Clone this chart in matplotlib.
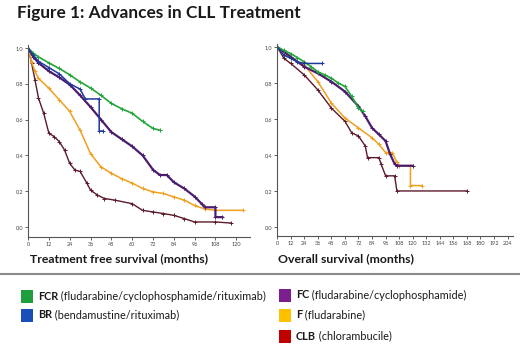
import matplotlib
matplotlib.use("Agg")
import matplotlib.pyplot as plt
from matplotlib.patches import Rectangle
from matplotlib.lines import Line2D

plt.rcParams['font.family'] = ['Lato', 'DejaVu Sans']

# treatment free survival (months, fraction)
fcr_t_x = [0, 3, 6, 12, 18, 24, 30, 36, 42, 48, 54, 60, 66, 72, 76]
fcr_t_y = [1.0, 0.97, 0.95, 0.916, 0.885, 0.85, 0.81, 0.776, 0.735, 0.69, 0.66, 0.635, 0.59, 0.55, 0.54]
br_t_x = [0, 3, 6, 12, 18, 24, 30, 33, 41, 41, 43]
br_t_y = [1.0, 0.96, 0.925, 0.89, 0.855, 0.80, 0.77, 0.715, 0.715, 0.536, 0.536]
fc_t_x = [0, 3, 6, 12, 18, 24, 30, 36, 42, 48, 54, 60, 66, 72, 76, 80, 84, 90, 96, 100, 102, 108, 108, 112]
fc_t_y = [1.0, 0.95, 0.916, 0.87, 0.835, 0.795, 0.735, 0.67, 0.60, 0.53, 0.49, 0.45, 0.40, 0.32, 0.29, 0.29,
          0.25, 0.215, 0.17, 0.13, 0.11, 0.11, 0.055, 0.055]
f_t_x = [0, 2, 4, 6, 12, 18, 24, 30, 36, 42, 48, 54, 60, 66, 72, 78, 84, 90, 96, 102, 108, 124]
f_t_y = [1.0, 0.92, 0.87, 0.83, 0.775, 0.71, 0.645, 0.54, 0.41, 0.335, 0.30, 0.27, 0.245, 0.215, 0.196, 0.187,
         0.168, 0.15, 0.12, 0.10, 0.093, 0.093]
clb_t_x = [0, 2, 4, 6, 9, 12, 15, 18, 21, 24, 27, 30, 34, 36, 40, 44, 50, 60, 66, 72, 78, 84, 90, 96, 108, 117]
clb_t_y = [1.0, 0.916, 0.82, 0.72, 0.635, 0.523, 0.505, 0.477, 0.43, 0.355, 0.318, 0.31, 0.243, 0.206, 0.178,
           0.159, 0.15, 0.13, 0.093, 0.084, 0.075, 0.065, 0.047, 0.028, 0.028, 0.022]

# overall survival
fcr_o_x = [0, 6, 12, 18, 24, 30, 36, 42, 48, 54, 60, 66, 72, 76]
fcr_o_y = [1.0, 0.98, 0.963, 0.94, 0.917, 0.89, 0.862, 0.845, 0.826, 0.80, 0.78, 0.725, 0.66, 0.642]
br_o_x = [0, 6, 12, 18, 24, 40]
br_o_y = [1.0, 0.954, 0.936, 0.917, 0.908, 0.908]
fc_o_x = [0, 12, 24, 36, 48, 60, 72, 78, 84, 90, 96, 100, 104, 106, 120]
fc_o_y = [1.0, 0.945, 0.89, 0.853, 0.807, 0.752, 0.67, 0.615, 0.55, 0.514, 0.477, 0.404, 0.35, 0.34, 0.34]
f_o_x = [0, 12, 24, 36, 48, 60, 72, 84, 90, 96, 102, 106, 108, 118, 118, 128]
f_o_y = [1.0, 0.936, 0.9, 0.807, 0.688, 0.605, 0.55, 0.495, 0.46, 0.413, 0.413, 0.358, 0.34, 0.34, 0.23, 0.23]
clb_o_x = [0, 6, 12, 24, 36, 48, 60, 66, 72, 78, 80, 90, 92, 96, 104, 106, 168]
clb_o_y = [1.0, 0.936, 0.908, 0.844, 0.761, 0.66, 0.587, 0.523, 0.505, 0.45, 0.385, 0.385, 0.35, 0.284, 0.284,
           0.20, 0.20]

line_cols = ["#22a63a", "#1c3a9c", "#4b1c6e", "#f0a01e", "#5c1a2a"]
legend_cols = ["#1e9e3e", "#1a4db5", "#7b1f8f", "#ffc000", "#c00000"]
abbr = ["FCR", "BR", "FC", "F", "CLB"]
names = [" (fludarabine/cyclophosphamide/rituximab)", " (bendamustine/rituximab)",
         " (fludarabine/cyclophosphamide)", " (fludarabine)", " (chlorambucile)"]
widths = [1.2, 1.1, 1.6, 1.1, 1.0]

fig = plt.figure(figsize=(5.2, 3.45), dpi=100)
fig.patch.set_facecolor("white")

ax1 = fig.add_axes([0.054, 0.313, 0.427, 0.557])
ax2 = fig.add_axes([0.533, 0.316, 0.454, 0.557])

tfs = [(fcr_t_x, fcr_t_y), (br_t_x, br_t_y), (fc_t_x, fc_t_y), (f_t_x, f_t_y), (clb_t_x, clb_t_y)]
os_ = [(fcr_o_x, fcr_o_y), (br_o_x, br_o_y), (fc_o_x, fc_o_y), (f_o_x, f_o_y), (clb_o_x, clb_o_y)]
order = [4, 3, 2, 0, 1]

for ax, curves in [(ax1, tfs), (ax2, os_)]:
    for i in order:
        x, y = curves[i]
        ax.plot(x, y, color=line_cols[i], lw=widths[i])
        ax.plot(x[1:], y[1:], ls="none", marker="+", ms=3, mew=0.7, color=line_cols[i])
    for s in ["top", "right"]:
        ax.spines[s].set_visible(False)
    for s in ["left", "bottom"]:
        ax.spines[s].set_color("#555555")
        ax.spines[s].set_linewidth(0.8)
    ax.set_yticks([0, 0.2, 0.4, 0.6, 0.8, 1.0])
    ax.set_yticklabels(["0,0", "0,2", "0,4", "0,6", "0,8", "1,0"])
    ax.tick_params(labelsize=4, length=2, width=0.6, colors="#444444", pad=1.5)

ax1.set_xlim(0, 128)
ax1.set_ylim(-0.056, 1.017)
ax1.set_xticks(range(0, 121, 12))
ax2.set_xlim(0, 209)
ax2.set_ylim(-0.05, 1.017)
ax2.set_xticks(range(0, 205, 12))

fig.text(17 / 520, 1 - 13 / 345, "Figure 1: Advances in CLL Treatment", fontsize=12.4, fontweight="bold",
         va="center", ha="left", color="#1a1a1a")
fig.text(30 / 520, 1 - 259 / 345, "Treatment free survival (months)", fontsize=8.8, fontweight="bold",
         va="center", ha="left", color="#1a1a1a")
fig.text(278 / 520, 1 - 259 / 345, "Overall survival (months)", fontsize=8.8, fontweight="bold",
         va="center", ha="left", color="#1a1a1a")

fig.add_artist(Line2D([0, 1], [1 - 274 / 345, 1 - 274 / 345], color="#8a8a8a", lw=1.5))

# legend
pos = [(21, 296), (21, 315), (279, 295), (279, 315), (279, 336)]
fig.canvas.draw()
r = fig.canvas.get_renderer()
for i in range(5):
    px, py = pos[i]
    fig.add_artist(Rectangle((px / 520, 1 - (py + 6.5) / 345), 12 / 520, 13 / 345,
                             facecolor=legend_cols[i], edgecolor="none"))
    t = fig.text((px + 17) / 520, 1 - py / 345, abbr[i], fontsize=7.8, fontweight="bold",
                 va="center", ha="left", color="#1a1a1a")
    bb = t.get_window_extent(r)
    fig.text(bb.x1 / fig.bbox.width, 1 - py / 345, names[i], fontsize=7.8,
             va="center", ha="left", color="#1a1a1a")

fig.savefig("out.png", dpi=100)
